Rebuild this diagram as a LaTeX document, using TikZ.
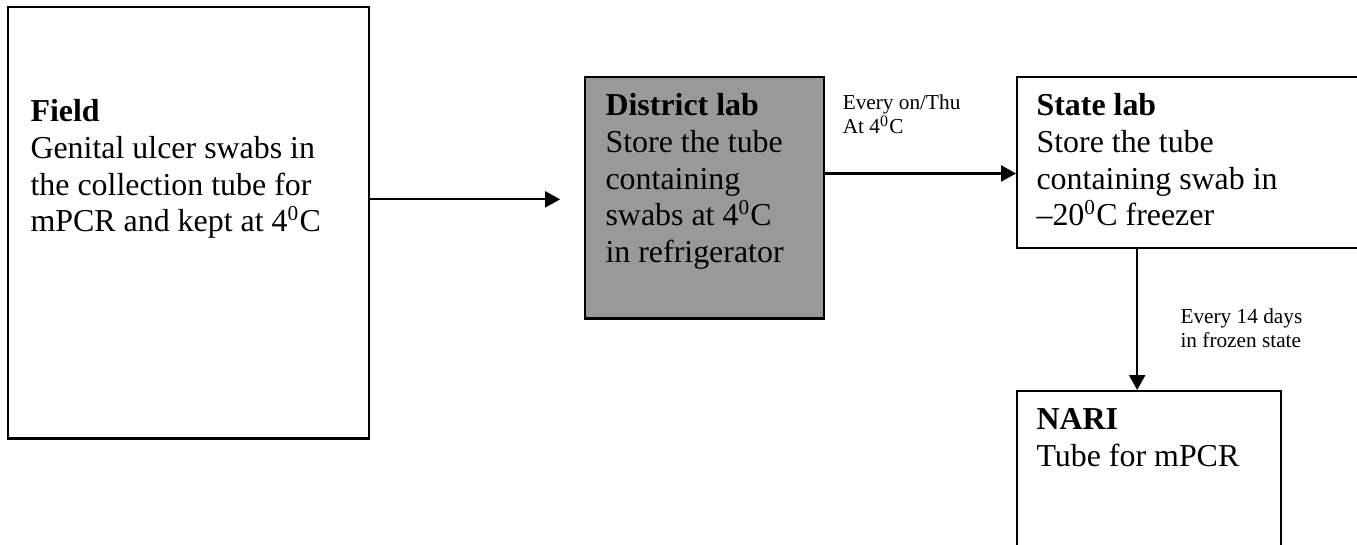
\documentclass[tikz,border=0pt]{standalone}
\usepackage{fontspec}
\setmainfont{Liberation Serif}
\usetikzlibrary{arrows.meta,positioning,calc}
\definecolor{LabGray}{HTML}{999999}
\tikzset{
  % Base box
  BX/.style={rectangle,draw,line width=0.8pt,anchor=north west,inner sep=0pt},
  % Box text
  TX/.style={anchor=north west,inner sep=0pt,align=left,
             font=\fontsize{12}{13.8}\selectfont},
  % Edge label
  LB/.style={anchor=north west,inner sep=0pt,align=left,
             font=\fontsize{8}{9.2}\selectfont},
  % Arrow
  arr/.style={-{Triangle[length=5.6pt,width=6pt]},line width=0.8pt}
}

\begin{document}
\begin{tikzpicture}[x=0.01322cm,y=-0.01322cm]
  \clip (0,0) rectangle (1357,544);
  \node[BX,minimum width=4.77cm,minimum height=5.70cm] (field) at (7,6) {};
  \node[BX,fill=LabGray,minimum width=3.16cm,minimum height=3.19cm] (district) at (584,76) {};
  \node[BX,minimum width=4.81cm,minimum height=2.26cm] (state) at (1016,76) {};
  \node[BX,minimum width=3.49cm,minimum height=2.78cm] (nari) at (1016,390) {};
  % Box texts
  \node[TX] (fieldtxt) at ($(field.north west)+(23,93)$)
    {\textbf{Field}\\Genital ulcer swabs in\\the collection tube for\\mPCR and kept at 4\textsuperscript{0}C};
  \node[TX] (districttxt) at ($(district.north west)+(21,17)$)
    {\textbf{District lab}\\Store the tube\\containing\\swabs at 4\textsuperscript{0}C\\in refrigerator};
  \node[TX] (statetxt) at ($(state.north west)+(20,17)$)
    {\textbf{State lab}\\Store the tube\\containing swab in\\--20\textsuperscript{0}C freezer};
  \node[TX] (naritxt) at ($(nari.north west)+(20,18)$)
    {\textbf{NARI}\\Tube for mPCR};
  % Arrows
  \draw[arr,shorten >=9pt]([yshift=8.8pt]field.east)--([yshift=8.8pt]field.east-|district.west);
  \draw[arr]([yshift=-4.1pt]state.west-|district.east)--([yshift=-4.1pt]state.west);
  \draw[arr]([xshift=-4.5pt]nari.north|-state.south)--([xshift=-4.5pt]nari.north);
  % Edge labels
  \node[LB] (weekly) at ($(district.north east)+(17,18)$) {Every on/Thu\\At 4\textsuperscript{0}C};
  \node[LB] (fortnight) at ($(nari.north west)+(164,-82)$) {Every 14 days\\in frozen state};
\end{tikzpicture}
\end{document}
